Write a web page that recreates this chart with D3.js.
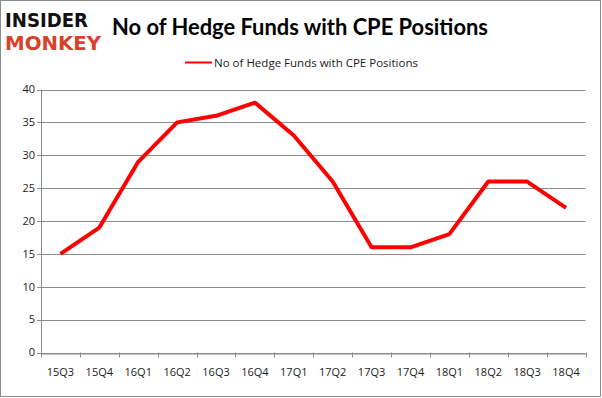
<!DOCTYPE html>
<html><head><meta charset="utf-8">
<script src="https://cdn.jsdelivr.net/npm/d3@7"></script>
<style>body{margin:0;background:#fff}svg{display:block}</style>
</head><body>
<script>
const categories = ["15Q3","15Q4","16Q1","16Q2","16Q3","16Q4","17Q1","17Q2","17Q3","17Q4","18Q1","18Q2","18Q3","18Q4"];
const values = [15,19,29,35,36,38,33,26,16,16,18,26,26,22];
const yTicks = [0,5,10,15,20,25,30,35,40];
const seriesName = "No of Hedge Funds with CPE Positions";
const title = "No of Hedge Funds with CPE Positions";

const W = 602, H = 398;
const svg = d3.select("body").append("svg").attr("width", W).attr("height", H);
svg.append("rect").attr("x",0.5).attr("y",0.5).attr("width",W-2).attr("height",H-2)
  .attr("fill","#fff").attr("stroke","#8c8c8c");

const m = {l:41, r:585.5, t:89.5, b:352.5};
const x = d3.scaleBand().domain(categories).range([m.l, m.r]);
const y = d3.scaleLinear().domain([0,40]).range([m.b, m.t]);

// gridlines
svg.append("g").selectAll("line").data(yTicks).join("line")
  .attr("x1", m.l-4).attr("x2", m.r)
  .attr("y1", d=>Math.round(y(d))+0.5).attr("y2", d=>Math.round(y(d))+0.5)
  .attr("stroke","#8c8c8c").attr("stroke-width",1);

// y axis line
svg.append("line").attr("x1",m.l+0.5).attr("x2",m.l+0.5).attr("y1",m.t).attr("y2",m.b)
  .attr("stroke","#8c8c8c");

// x axis
const xa = svg.append("g").attr("transform",`translate(0,${Math.round(m.b)+0.5})`)
  .call(d3.axisBottom(x).tickSize(0).tickPadding(15));
xa.select(".domain").attr("stroke","#8c8c8c");
xa.selectAll("text").attr("font-family","'Open Sans', 'DejaVu Sans', sans-serif").attr("font-size","11px").attr("fill","#1a1a1a");
// boundary ticks
const bounds = categories.map(c=>x(c)).concat([m.r]);
svg.append("g").selectAll("line").data(bounds).join("line")
  .attr("x1",d=>Math.round(d)+0.5).attr("x2",d=>Math.round(d)+0.5)
  .attr("y1",m.b).attr("y2",m.b+5).attr("stroke","#8c8c8c");

// y labels
svg.append("g").selectAll("text").data(yTicks).join("text")
  .attr("x", m.l-6).attr("y", d=>y(d)).attr("dy","0.35em")
  .attr("text-anchor","end")
  .attr("font-family","'Open Sans', 'DejaVu Sans', sans-serif").attr("font-size","11px").attr("fill","#1a1a1a")
  .text(d=>d);

// line
const line = d3.line().x((d,i)=>x(categories[i])+x.bandwidth()/2).y(d=>y(d));
svg.append("path").datum(values).attr("d",line).attr("fill","none")
  .attr("stroke","#ff0000").attr("stroke-width",4).attr("stroke-linejoin","round");

// title
svg.append("text").attr("x",112).attr("y",35)
  .attr("font-family","Lato, 'Open Sans', sans-serif").attr("font-weight","bold").attr("font-size","22px")
  .attr("fill","#000").attr("textLength",376).attr("lengthAdjust","spacingAndGlyphs").text(title);

// legend
svg.append("line").attr("x1",185).attr("x2",212).attr("y1",62.5).attr("y2",62.5)
  .attr("stroke","#ff0000").attr("stroke-width",2);
svg.append("text").attr("x",214).attr("y",66.5)
  .attr("font-family","'Open Sans', 'DejaVu Sans', sans-serif").attr("font-size","11px").attr("fill","#1a1a1a")
  .attr("textLength",204).attr("lengthAdjust","spacingAndGlyphs").text(seriesName);

// logo
svg.append("text").attr("x",5).attr("y",27)
  .attr("font-family","'DejaVu Sans', sans-serif").attr("font-weight","bold").attr("font-size","19px")
  .attr("fill","#111").attr("textLength",83).attr("lengthAdjust","spacingAndGlyphs").text("INSIDER");
svg.append("text").attr("x",5).attr("y",50)
  .attr("font-family","'DejaVu Sans', sans-serif").attr("font-weight","bold").attr("font-size","19px")
  .attr("fill","#d9402b").attr("textLength",96).attr("lengthAdjust","spacingAndGlyphs").text("MONKEY");
</script>
</body></html>
